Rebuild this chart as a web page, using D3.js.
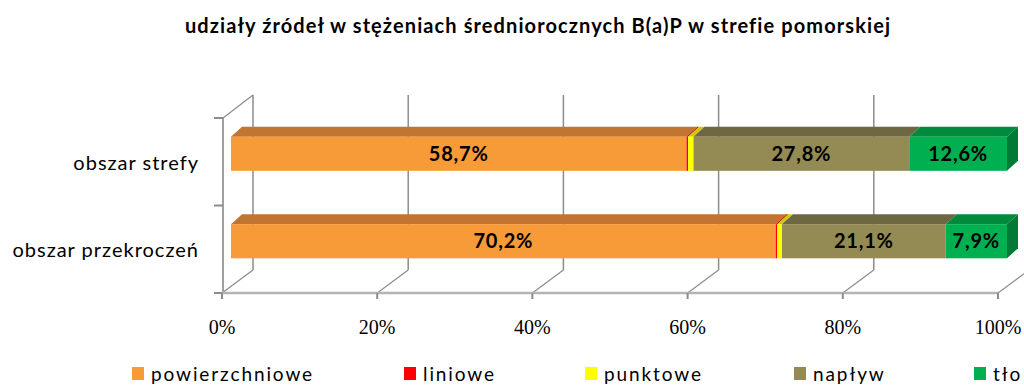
<!DOCTYPE html>
<html>
<head>
<meta charset="utf-8">
<script src="https://cdn.jsdelivr.net/npm/d3@7"></script>
<style>
  html, body { margin: 0; padding: 0; background: #fff; }
  svg { display: block; }
</style>
</head>
<body>
<svg id="chart" width="1024" height="385"></svg>
<script>
// Shares of emission sources in annual mean B(a)P concentrations
const title = "udziały źródeł w stężeniach średniorocznych B(a)P w strefie pomorskiej";
const categories = ["obszar strefy", "obszar przekroczeń"];
const seriesNames = ["powierzchniowe", "liniowe", "punktowe", "napływ", "tło"];
const powierzchniowe = [58.7, 70.2];
const liniowe = [0.2, 0.2];
const punktowe = [0.7, 0.6];
const naplyw = [27.8, 21.1];
const tlo = [12.6, 7.9];
const tickValues = [0, 20, 40, 60, 80, 100];
const tickLabels = ["0%", "20%", "40%", "60%", "80%", "100%"];

const seriesValues = [powierzchniowe, liniowe, punktowe, naplyw, tlo];
const colors = {
  front: ["#F79A38", "#FF0000", "#FFFF00", "#948A54", "#00B050"],
  top:   ["#C17530", "#C00000", "#CCCC00", "#6E6842", "#008A3E"],
  side:  ["#B86E2A", "#A00000", "#B8B800", "#625C3A", "#007A36"]
};

const rows = categories.map((c, i) => {
  const r = { category: c };
  seriesNames.forEach((s, k) => { r[s] = seriesValues[k][i]; });
  return r;
});
const stacked = d3.stack().keys(seriesNames)(rows);

const svg = d3.select("#chart");

// plot geometry (oblique projection of a shallow 3D box)
const floorY = 293, topY = 118;
const frontX0 = 222, plotW = 776;
const depthX = 31, depthY = -23;      // full wall depth
const barDX = 9, barDY = -8;          // bar front plane inside the box
const barDepthX = 11, barDepthY = -10; // bar thickness

const x = d3.scaleLinear().domain([0, 100]).range([0, plotW]);
const y = d3.scaleBand().domain(categories).range([topY, floorY])
  .paddingInner(0.61).paddingOuter(0.305);

const gridColor = "#8c8c8c";
const g = svg.append("g");

// back wall gridlines
g.selectAll(".grid").data(tickValues).join("line")
  .attr("x1", d => frontX0 + depthX + x(d)).attr("x2", d => frontX0 + depthX + x(d))
  .attr("y1", topY + depthY).attr("y2", floorY + depthY)
  .attr("stroke", gridColor).attr("stroke-width", 1.5);

// floor depth lines
g.selectAll(".floor").data(tickValues).join("line")
  .attr("x1", d => frontX0 + x(d)).attr("y1", floorY)
  .attr("x2", d => frontX0 + depthX + x(d)).attr("y2", floorY + depthY)
  .attr("stroke", gridColor).attr("stroke-width", 1.2);

// left wall
g.append("line").attr("x1", frontX0 + 1).attr("x2", frontX0 + 1)
  .attr("y1", topY).attr("y2", floorY)
  .attr("stroke", "#a0a0a0").attr("stroke-width", 2);
g.append("line").attr("x1", frontX0 + 1).attr("y1", topY)
  .attr("x2", frontX0 + depthX).attr("y2", topY + depthY)
  .attr("stroke", gridColor).attr("stroke-width", 1.2);

// category axis ticks
const catTicks = [topY, topY + (floorY - topY) / 2, floorY];
g.selectAll(".ctick").data(catTicks).join("line")
  .attr("x1", frontX0 - 8).attr("x2", frontX0 + 1)
  .attr("y1", d => d).attr("y2", d => d)
  .attr("stroke", gridColor).attr("stroke-width", 2);

// floor front edge and value ticks
g.append("line").attr("x1", frontX0).attr("x2", frontX0 + plotW)
  .attr("y1", floorY).attr("y2", floorY)
  .attr("stroke", "#b4b4b4").attr("stroke-width", 2.5);
g.selectAll(".vtick").data(tickValues).join("line")
  .attr("x1", d => frontX0 + x(d)).attr("x2", d => frontX0 + x(d))
  .attr("y1", floorY).attr("y2", floorY + 6)
  .attr("stroke", gridColor).attr("stroke-width", 2);

// bars
const barX0 = frontX0 + barDX;
const bars = g.append("g");
stacked.forEach((layer, k) => {
  layer.forEach((seg, i) => {
    const cat = categories[i];
    const x0 = barX0 + x(seg[0]), x1 = barX0 + x(seg[1]);
    const y0 = y(cat) + barDY, h = y.bandwidth();
    // top face
    bars.append("path")
      .attr("d", `M${x0},${y0} L${x0 + barDepthX},${y0 + barDepthY} L${x1 + barDepthX},${y0 + barDepthY} L${x1},${y0} Z`)
      .attr("fill", colors.top[k]);
    // front face
    bars.append("rect")
      .attr("x", x0).attr("y", y0).attr("width", Math.max(0, x1 - x0)).attr("height", h)
      .attr("fill", colors.front[k]);
    // right side face of the last segment
    if (k === seriesNames.length - 1) {
      bars.append("path")
        .attr("d", `M${x1},${y0} L${x1 + barDepthX},${y0 + barDepthY} L${x1 + barDepthX},${y0 + h + barDepthY} L${x1},${y0 + h} Z`)
        .attr("fill", colors.side[k]);
    }
    // value label
    const v = seg[1] - seg[0];
    if (v >= 5) {
      bars.append("text")
        .attr("x", (x0 + x1) / 2).attr("y", y0 + h / 2 + 7)
        .attr("text-anchor", "middle")
        .attr("font-family", "Lato, 'DejaVu Sans', sans-serif")
        .attr("font-weight", "bold").attr("font-size", 20)
        .attr("letter-spacing", 0.8)
        .attr("fill", "#000")
        .text(d3.format(".1f")(v).replace(".", ",") + "%");
    }
  });
});

// category labels
g.selectAll(".clabel").data(categories).join("text")
  .attr("x", 199).attr("y", d => y(d) + y.bandwidth() / 2 + 8)
  .attr("text-anchor", "end")
  .attr("font-family", "Lato, sans-serif").attr("font-size", 20)
  .attr("letter-spacing", 1)
  .attr("fill", "#000").text(d => d);

// value axis labels
g.selectAll(".vlabel").data(tickValues).join("text")
  .attr("x", d => frontX0 + x(d)).attr("y", 334)
  .attr("text-anchor", "middle")
  .attr("font-family", "'Liberation Serif', serif").attr("font-size", 20)
  .attr("fill", "#000").text((d, i) => tickLabels[i]);

// title
svg.append("text").attr("x", 538).attr("y", 33)
  .attr("text-anchor", "middle")
  .attr("font-family", "Lato, sans-serif").attr("font-weight", "bold").attr("font-size", 20)
  .attr("letter-spacing", 1.1)
  .attr("fill", "#000").text(title);

// legend
const legendX = [132, 404, 585, 794, 974];
const legend = svg.append("g");
seriesNames.forEach((s, k) => {
  legend.append("rect").attr("x", legendX[k]).attr("y", 367).attr("width", 12).attr("height", 13)
    .attr("fill", colors.front[k]);
  legend.append("text").attr("x", legendX[k] + 19).attr("y", 381)
    .attr("font-family", "Lato, sans-serif").attr("font-size", 19)
    .attr("letter-spacing", 1.9)
    .attr("fill", "#000").text(s);
});
</script>
</body>
</html>
